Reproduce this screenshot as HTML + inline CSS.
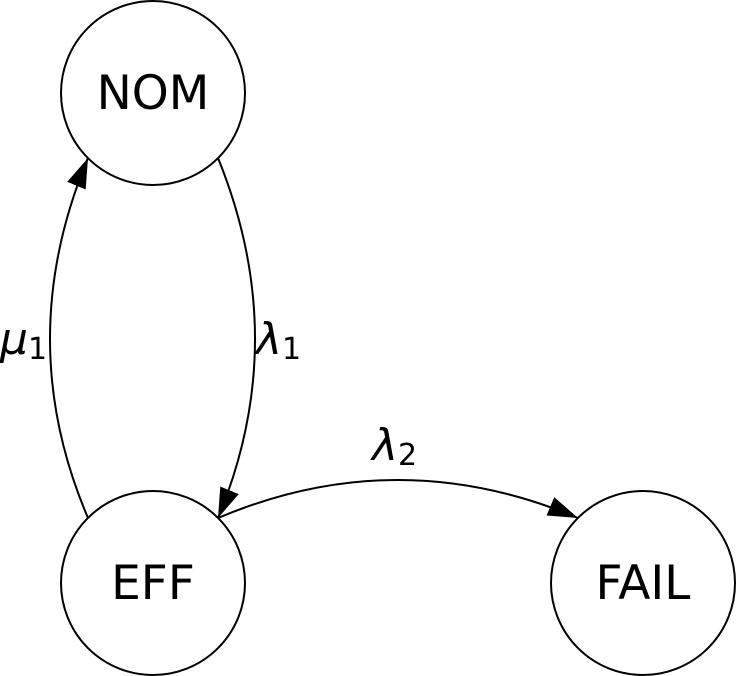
<!DOCTYPE html>
<html><head><meta charset="utf-8"><style>
html,body{margin:0;padding:0;background:#fff;}
svg{display:block;}
text{font-family:"DejaVu Sans","Liberation Sans",sans-serif;fill:#000;}
</style></head><body>
<svg width="736" height="676" viewBox="0 0 736 676">
<defs>
<marker id="ah" markerWidth="30" markerHeight="20" refX="30" refY="10" orient="auto" markerUnits="userSpaceOnUse">
<path d="M0,0 L30,10 L0,20 Z" fill="#000"/>
</marker>
</defs>
<g fill="none" stroke="#000" stroke-width="2">
<circle cx="153" cy="93" r="92"/>
<circle cx="153" cy="583" r="92"/>
<circle cx="643" cy="583" r="92"/>
<path d="M218,158 Q292,340 218,518" marker-end="url(#ah)"/>
<path d="M88,518 Q12,340 88,158" marker-end="url(#ah)"/>
<path d="M218,518 Q398,442 578,518" marker-end="url(#ah)"/>
</g>
<text x="153" y="109" font-size="47" text-anchor="middle">NOM</text>
<text x="153" y="599" font-size="47" text-anchor="middle">EFF</text>
<text x="643" y="599" font-size="47" text-anchor="middle">FAIL</text>
<text x="0" y="354" font-size="44" font-style="italic">μ<tspan font-size="30" font-style="normal" dy="5">1</tspan></text>
<text x="256" y="354" font-size="44" font-style="italic">λ<tspan font-size="30" font-style="normal" dy="5">1</tspan></text>
<text x="372" y="460" font-size="44" font-style="italic">λ<tspan font-size="30" font-style="normal" dy="5">2</tspan></text>
</svg>
</body></html>
